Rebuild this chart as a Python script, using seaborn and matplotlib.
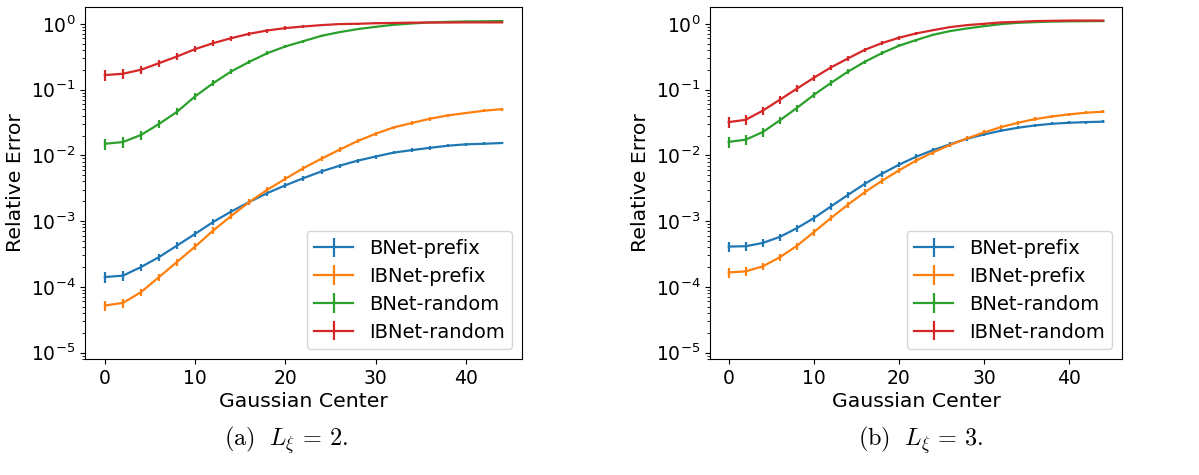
import numpy as np
import matplotlib
matplotlib.use("Agg")
import matplotlib.pyplot as plt
import seaborn as sns

# Gaussian centers (x axis)
centers = list(range(0, 45, 2))
series_names = ["BNet-prefix", "IBNet-prefix", "BNet-random", "IBNet-random"]

# panel (a): L_xi = 2
a_bnet_prefix = [1.41e-4, 1.48e-4, 2.0e-4, 2.84e-4, 4.25e-4, 6.4e-4, 9.7e-4, 1.4e-3,
                 1.95e-3, 2.67e-3, 3.5e-3, 4.5e-3, 5.7e-3, 6.95e-3, 8.3e-3, 9.6e-3,
                 1.1e-2, 1.2e-2, 1.3e-2, 1.4e-2, 1.47e-2, 1.5e-2, 1.54e-2]
a_ibnet_prefix = [5.2e-5, 5.7e-5, 8.3e-5, 1.41e-4, 2.4e-4, 4.1e-4, 7.2e-4, 1.2e-3,
                  1.95e-3, 3.0e-3, 4.4e-3, 6.4e-3, 8.9e-3, 1.22e-2, 1.65e-2, 2.13e-2,
                  2.66e-2, 3.1e-2, 3.6e-2, 4.05e-2, 4.4e-2, 4.76e-2, 5.05e-2]
a_bnet_random = [1.5e-2, 1.59e-2, 2.04e-2, 3.0e-2, 4.6e-2, 7.9e-2, 0.125, 0.189,
                 0.264, 0.358, 0.453, 0.545, 0.657, 0.747, 0.83, 0.90,
                 0.966, 1.01, 1.05, 1.07, 1.085, 1.09, 1.1]
a_ibnet_random = [0.166, 0.174, 0.20, 0.252, 0.319, 0.412, 0.508, 0.605,
                  0.705, 0.792, 0.86, 0.91, 0.955, 0.99, 1.0, 1.02,
                  1.03, 1.04, 1.045, 1.045, 1.05, 1.05, 1.05]

# panel (b): L_xi = 3
b_bnet_prefix = [4.1e-4, 4.15e-4, 4.65e-4, 5.75e-4, 7.8e-4, 1.11e-3, 1.67e-3, 2.5e-3,
                 3.7e-3, 5.25e-3, 7.2e-3, 9.5e-3, 1.2e-2, 1.47e-2, 1.79e-2, 2.08e-2,
                 2.37e-2, 2.63e-2, 2.85e-2, 3.02e-2, 3.13e-2, 3.2e-2, 3.25e-2]
b_ibnet_prefix = [1.66e-4, 1.72e-4, 2.05e-4, 2.82e-4, 4.2e-4, 6.8e-4, 1.11e-3, 1.78e-3,
                  2.76e-3, 4.1e-3, 5.9e-3, 8.3e-3, 1.11e-2, 1.44e-2, 1.81e-2, 2.23e-2,
                  2.69e-2, 3.13e-2, 3.56e-2, 3.9e-2, 4.2e-2, 4.45e-2, 4.6e-2]
b_bnet_random = [1.6e-2, 1.73e-2, 2.26e-2, 3.4e-2, 5.25e-2, 8.3e-2, 0.126, 0.187,
                 0.265, 0.358, 0.464, 0.565, 0.68, 0.774, 0.85, 0.92,
                 0.99, 1.035, 1.06, 1.08, 1.09, 1.095, 1.1]
b_ibnet_random = [3.2e-2, 3.47e-2, 4.78e-2, 7.0e-2, 0.103, 0.151, 0.217, 0.297,
                  0.403, 0.508, 0.613, 0.713, 0.80, 0.89, 0.955, 1.0,
                  1.05, 1.07, 1.1, 1.11, 1.12, 1.12, 1.12]

# relative error bar half-heights (fraction of value)
rel_err_prefix = [0.18, 0.16, 0.13, 0.12, 0.12, 0.12, 0.11, 0.11, 0.10, 0.10, 0.09, 0.09,
                  0.08, 0.08, 0.07, 0.07, 0.06, 0.06, 0.06, 0.05, 0.05, 0.05, 0.05]
rel_err_random = [0.20, 0.18, 0.15, 0.13, 0.12, 0.11, 0.10, 0.09, 0.08, 0.07, 0.06, 0.05,
                  0.04, 0.04, 0.03, 0.03, 0.02, 0.02, 0.02, 0.02, 0.02, 0.02, 0.02]

panels = [
    ([a_bnet_prefix, a_ibnet_prefix, a_bnet_random, a_ibnet_random], r"$\mathrm{(a)}\ \ L_\xi\,=\,2.$"),
    ([b_bnet_prefix, b_ibnet_prefix, b_bnet_random, b_ibnet_random], r"$\mathrm{(b)}\ \ L_\xi\,=\,3.$"),
]
errs = [rel_err_prefix, rel_err_prefix, rel_err_random, rel_err_random]

plt.rcParams['mathtext.fontset'] = 'dejavusans'
colors = sns.color_palette("tab10", 4)

fig = plt.figure(figsize=(11.99, 4.75), dpi=100)
ax_rects = [[85 / 1199, 1 - 359 / 475, 437 / 1199, 352 / 475],
            [710 / 1199, 1 - 359 / 475, 412 / 1199, 352 / 475]]
caption_x = [286 / 1199, 921 / 1199]

for k, (series, caption) in enumerate(panels):
    ax = fig.add_axes(ax_rects[k])
    for vals, err, name, c in zip(series, errs, series_names, colors):
        v = np.array(vals)
        ax.errorbar(centers, v, yerr=v * np.array(err), color=c, label=name, lw=1.6)
    ax.set_yscale("log")
    ax.set_ylim(8e-6, 1.8)
    ax.set_xticks([0, 10, 20, 30, 40])
    ax.tick_params(labelsize=13.5)
    ax.set_xlabel("Gaussian Center", fontsize=14.7, labelpad=3)
    ax.set_ylabel("Relative Error", fontsize=14.7)
    ax.legend(loc="lower right", fontsize=14, labelspacing=0.45)
    fig.text(caption_x[k], 1 - 440 / 475, caption, ha="center", va="center",
             fontsize=17.5, math_fontfamily="cm")

fig.savefig("out.png", dpi=100)
